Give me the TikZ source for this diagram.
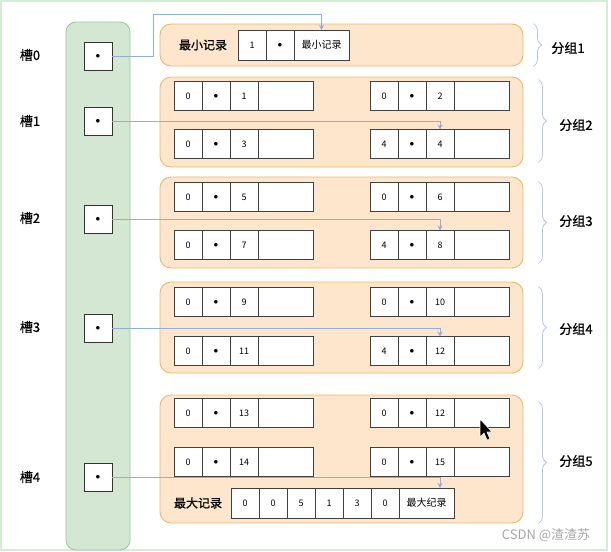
\documentclass[tikz,border=0pt]{standalone}
\usepackage{fontspec}
\setmainfont{Noto Sans CJK SC}
\newfontfamily\medfont{Noto Sans CJK SC}[FakeBold=0.8]
\usetikzlibrary{arrows.meta, positioning, decorations.pathreplacing}

\definecolor{colfill}{HTML}{D3E7D2}
\definecolor{colline}{HTML}{9DC49A}
\definecolor{grpfill}{HTML}{FDE6CB}
\definecolor{grpline}{HTML}{EBB96B}
\definecolor{linkblue}{HTML}{8EAEE2}
\definecolor{brcblue}{HTML}{B3C8EC}
\definecolor{framegreen}{HTML}{D6ECD6}

% one record: name, x, y, three values and an empty field
\newcommand{\record}[6]{%
  \node[cell, anchor=west] (#1-1) at (#2,#3) {#4};
  \node[cell, right=0pt of #1-1] (#1-2) {#5};
  \node[cell, right=0pt of #1-2] (#1-3) {#6};
  \node[cell, wide, right=0pt of #1-3] (#1-4) {};
}

\begin{document}
\begin{tikzpicture}[
    x=1pt, y=-1pt,
    every node/.style={font={\fontsize{9}{10}\selectfont}},
    col/.style={draw=colline, fill=colfill, rounded corners=10pt, line width=0.8pt, inner sep=0pt},
    grp/.style={draw=grpline, fill=grpfill, rounded corners=11pt, line width=0.9pt, inner sep=0pt, minimum width=363pt},
    slot/.style={draw=black!80, fill=white, line width=0.8pt, minimum size=28pt, inner sep=0pt},
    cell/.style={draw=black!75, fill=white, line width=0.6pt, minimum width=28pt, minimum height=29pt, inner sep=0pt, outer sep=0pt},
    wide/.style={minimum width=55pt},
    lbl/.style={font={\medfont\fontsize{13}{14}\selectfont}},
    tag/.style={font={\medfont\fontsize{12}{13}\selectfont}},
    link/.style={draw=linkblue, line width=0.7pt, -{Stealth[length=5pt, width=5pt]}},
    brc/.style={draw=brcblue, line width=0.8pt, decorate, decoration={brace, amplitude=8pt}}
  ]

  \useasboundingbox (0,0) rectangle (611,552);
  \draw[framegreen, line width=1.2pt] (1,1) rectangle (607,550);

  % column of slots
  \node[col, minimum width=64pt, minimum height=528pt] (col) at (98,286) {};

  % groups
  \node[grp, minimum height=42pt] (g1) at (341.5,45) {};
  \node[grp, minimum height=90pt] (g2) at (341.5,122) {};
  \node[grp, minimum height=91pt] (g3) at (341.5,222.5) {};
  \node[grp, minimum height=91pt] (g4) at (341.5,327.5) {};
  \node[grp, minimum height=128pt] (g5) at (341.5,459) {};

  % slots
  \node[slot] (s0) at (98,56) {$\bullet$};
  \node[slot] (s1) at (98,121) {$\bullet$};
  \node[slot] (s2) at (98,219) {$\bullet$};
  \node[slot] (s3) at (98,328) {$\bullet$};
  \node[slot] (s4) at (98,477) {$\bullet$};

  \node[lbl] (t0) at (30,55) {槽0};
  \node[lbl] (t1) at (30,121) {槽1};
  \node[lbl] (t2) at (30,218) {槽2};
  \node[lbl] (t3) at (30,327) {槽3};
  \node[lbl] (t4) at (30,477) {槽4};

  % group 1: smallest record
  \node[tag] (minlbl) at (203,45) {最小记录};
  \node[cell, anchor=west, minimum height=30pt] (m1) at (238,45) {1};
  \node[cell, minimum height=30pt, right=0pt of m1] (m2) {$\bullet$};
  \node[cell, wide, minimum height=30pt, right=0pt of m2, font={\fontsize{10}{11}\selectfont}] (m3) {最小记录};

  % group 2
  \record{a1}{174}{96}{0}{$\bullet$}{1}
  \record{a2}{370}{96}{0}{$\bullet$}{2}
  \record{a3}{174}{144}{0}{$\bullet$}{3}
  \record{a4}{370}{144}{4}{$\bullet$}{4}

  % group 3
  \record{b1}{174}{197}{0}{$\bullet$}{5}
  \record{b2}{370}{197}{0}{$\bullet$}{6}
  \record{b3}{174}{245}{0}{$\bullet$}{7}
  \record{b4}{370}{245}{4}{$\bullet$}{8}

  % group 4
  \record{c1}{174}{302}{0}{$\bullet$}{9}
  \record{c2}{370}{302}{0}{$\bullet$}{10}
  \record{c3}{174}{351}{0}{$\bullet$}{11}
  \record{c4}{370}{351}{4}{$\bullet$}{12}

  % group 5
  \record{d1}{174}{413}{0}{$\bullet$}{13}
  \record{d2}{370}{413}{0}{$\bullet$}{12}
  \record{d3}{174}{462}{0}{$\bullet$}{14}
  \record{d4}{370}{462}{0}{$\bullet$}{15}

  % group 5: largest record
  \node[tag] (maxlbl) at (198,503) {最大记录};
  \node[cell, anchor=west, minimum height=30pt] (x1) at (231,503) {0};
  \node[cell, minimum height=30pt, right=0pt of x1] (x2) {0};
  \node[cell, minimum height=30pt, right=0pt of x2] (x3) {5};
  \node[cell, minimum height=30pt, right=0pt of x3] (x4) {1};
  \node[cell, minimum height=30pt, right=0pt of x4] (x5) {3};
  \node[cell, minimum height=30pt, right=0pt of x5] (x6) {0};
  \node[cell, wide, minimum height=30pt, right=0pt of x6, font={\fontsize{10}{11}\selectfont}] (x7) {最大纪录};

  % slot pointers
  \coordinate (bend0) at (153,14);
  \draw[link] (s0.east) -| (bend0) -| (m3.north);
  \draw[link] (s1.east) -| (a4-3.north);
  \draw[link] (s2.east) -| (b4-3.north);
  \draw[link] (s3.east) -| (c4-3.north);
  \draw[link] (s4.east) -| (x7.north -| d4-3);

  % braces and group names
  \draw[brc] ([xshift=10pt]g1.north east) -- ([xshift=10pt]g1.south east);
  \draw[brc] ([xshift=15pt, yshift=-3pt]g2.north east) -- ([xshift=15pt, yshift=5pt]g2.south east);
  \draw[brc] ([xshift=15pt, yshift=-5pt]g3.north east) -- ([xshift=15pt, yshift=5pt]g3.south east);
  \draw[brc] ([xshift=15pt, yshift=-5pt]g4.north east) -- ([xshift=15pt, yshift=5pt]g4.south east);
  \draw[brc] ([xshift=15pt, yshift=-7pt]g5.north east) -- ([xshift=15pt]g5.south east);

  \node[lbl] (n1) at (568,48) {分组1};
  \node[lbl] (n2) at (576,125) {分组2};
  \node[lbl] (n3) at (576,221) {分组3};
  \node[lbl] (n4) at (576,329) {分组4};
  \node[lbl] (n5) at (576,461) {分组5};

  % mouse pointer
  \filldraw[fill=black, draw=white, line width=0.6pt] (480,419) -- (480,437) -- (484,433) -- (487,440) -- (490,439) -- (487,432) -- (492,432) -- cycle;

  \node[text=black!35, font={\fontsize{13}{14}\selectfont}] (wm) at (546,535) {CSDN @渣渣苏};

\end{tikzpicture}
\end{document}
